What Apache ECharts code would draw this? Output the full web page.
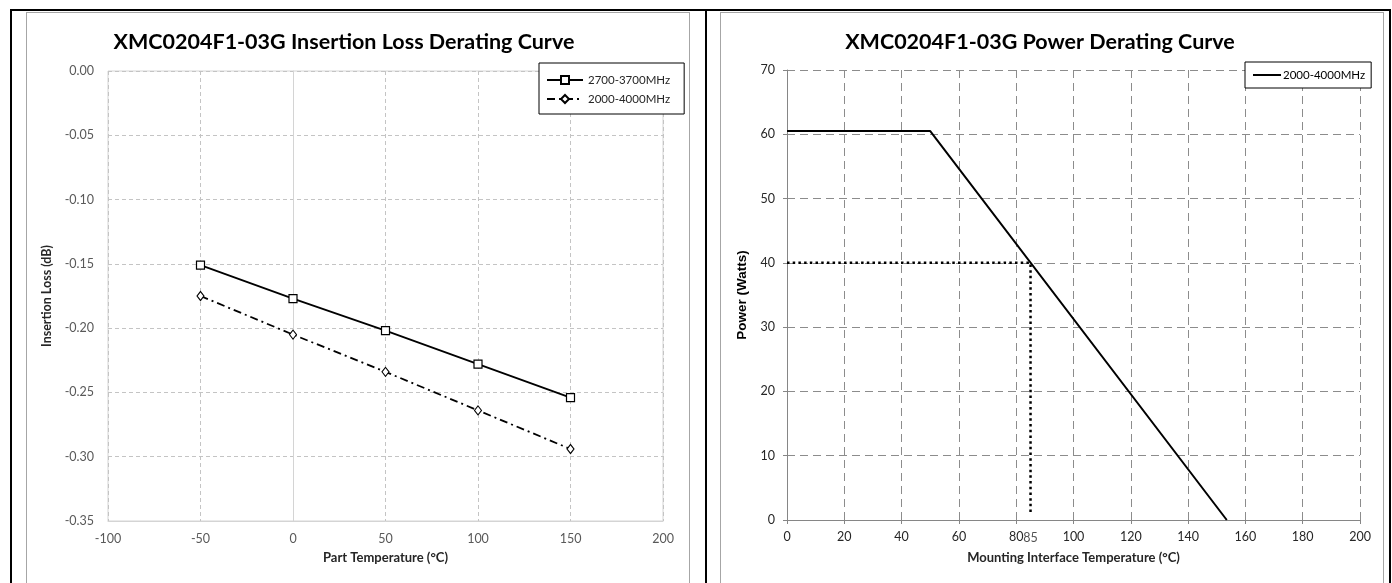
<!DOCTYPE html>
<html>
<head>
<meta charset="utf-8">
<script src="https://cdn.jsdelivr.net/npm/echarts@6/dist/echarts.min.js"></script>
<style>
  html, body { margin: 0; padding: 0; background: #fff; }
  #page { position: relative; width: 1392px; height: 583px; overflow: hidden; }
  .blk { position: absolute; background: #000; }
  .frame { position: absolute; border: 1px solid #a6a6a6; border-bottom: none; }
  .chart { position: absolute; top: 0; height: 583px; }
</style>
</head>
<body>
<div id="page">
  <div class="frame" style="left:26px; top:12px; width:662px; height:580px;"></div>
  <div class="frame" style="left:720px; top:12px; width:662px; height:580px;"></div>
  <div class="blk" style="left:10px; top:9px; width:1381px; height:2px;"></div>
  <div class="blk" style="left:10px; top:9px; width:2px; height:574px;"></div>
  <div class="blk" style="left:705px; top:9px; width:2px; height:574px;"></div>
  <div class="blk" style="left:1389px; top:9px; width:2px; height:574px;"></div>
  <div id="lossChart" class="chart" style="left:0; width:706px;"></div>
  <div id="powerChart" class="chart" style="left:706px; width:686px;"></div>
</div>
<script>
// insertion loss vs part temperature
const lossTemps = [-50, 0, 50, 100, 150];
const loss2700 = [-0.151, -0.177, -0.202, -0.228, -0.254];
const loss2000 = [-0.175, -0.205, -0.234, -0.264, -0.294];

// power derating
const powerTemps = [0, 50, 153.5];
const powerWatts = [60.5, 60.5, 0];
// 40 W @ 85 C guide lines
const guideTemps = [0, 85, 85];
const guideWatts = [40, 40, 0.8];
const guideTickTemp = [85];
const guideTickWatt = [0];

const FONT = 'Lato, "Open Sans", sans-serif';

function pairs(xs, ys) {
  return xs.map((x, i) => [x, ys[i]]);
}

const lossChart = echarts.init(document.getElementById('lossChart'));
lossChart.setOption({
  animation: false,
  textStyle: { fontFamily: FONT },
  title: {
    text: 'XMC0204F1-03G Insertion Loss Derating Curve',
    left: 339,
    top: 26,
    textAlign: 'center',
    textStyle: { fontFamily: FONT, fontSize: 21.5, fontWeight: 'bold', color: '#000' }
  },
  legend: {
    orient: 'vertical',
    left: 539,
    top: 63,
    padding: [11, 14, 9, 7],
    itemGap: 7,
    itemWidth: 36,
    itemHeight: 10,
    backgroundColor: '#fff',
    borderColor: '#000',
    borderWidth: 1,
    textStyle: { fontFamily: FONT, fontSize: 11.5, color: '#262626' },
    data: ['2700-3700MHz', '2000-4000MHz']
  },
  grid: {
    left: 108, top: 71, width: 555, height: 450,
    show: true, borderColor: '#d4d4d4', borderWidth: 1
  },
  xAxis: {
    type: 'value',
    min: -100, max: 200, interval: 50,
    name: 'Part Temperature (°C)',
    nameLocation: 'middle',
    nameGap: 30,
    nameTextStyle: { fontFamily: FONT, fontSize: 13, fontWeight: 'bold', color: '#262626' },
    axisLine: { onZero: false, lineStyle: { color: '#d4d4d4' } },
    axisTick: { show: false },
    axisLabel: { margin: 11, fontSize: 12.5, color: '#595959' },
    splitLine: { lineStyle: { color: '#c4c4c4', type: [4, 3] } }
  },
  yAxis: {
    type: 'value',
    min: -0.35, max: 0, interval: 0.05,
    name: 'Insertion Loss (dB)',
    nameLocation: 'middle',
    nameRotate: 90,
    nameGap: 41,
    nameTextStyle: { fontFamily: FONT, fontSize: 12.5, fontWeight: 'bold', color: '#262626' },
    axisLine: { show: true, lineStyle: { color: '#d4d4d4' } },
    axisTick: { show: false },
    axisLabel: { margin: 14, fontSize: 12.5, color: '#595959', formatter: v => v.toFixed(2) },
    splitLine: { lineStyle: { color: '#c4c4c4', type: [4, 3] } }
  },
  series: [{
    name: '2700-3700MHz',
    type: 'line',
    data: pairs(lossTemps, loss2700),
    symbol: 'rect',
    symbolSize: 8,
    lineStyle: { color: '#000', width: 1.8 },
    itemStyle: { color: '#fff', borderColor: '#000', borderWidth: 1.2 }
  }, {
    name: '2000-4000MHz',
    type: 'line',
    data: pairs(lossTemps, loss2000),
    symbol: 'diamond',
    symbolSize: [7, 9],
    lineStyle: { color: '#000', width: 1.8, type: [8, 4, 2, 4] },
    itemStyle: { color: '#fff', borderColor: '#000', borderWidth: 1.1 }
  }]
});

const powerChart = echarts.init(document.getElementById('powerChart'));
powerChart.setOption({
  animation: false,
  textStyle: { fontFamily: FONT },
  title: {
    text: 'XMC0204F1-03G Power Derating Curve',
    left: 329,
    top: 26,
    textAlign: 'center',
    textStyle: { fontFamily: FONT, fontSize: 21.5, fontWeight: 'bold', color: '#000' }
  },
  legend: {
    left: 539,
    top: 62,
    padding: [7, 6, 7, 8],
    itemWidth: 28,
    itemHeight: 2,
    backgroundColor: '#fff',
    borderColor: '#000',
    borderWidth: 1,
    textStyle: { fontFamily: FONT, fontSize: 11.5, color: '#000', padding: [0, 0, 0, -3] },
    data: [{ name: '2000-4000MHz', icon: 'rect' }]
  },
  grid: { left: 81, top: 70, width: 573, height: 450 },
  xAxis: {
    type: 'value',
    min: 0, max: 200, interval: 20,
    name: 'Mounting Interface Temperature (°C)',
    nameLocation: 'middle',
    nameGap: 31,
    nameTextStyle: { fontFamily: FONT, fontSize: 13, fontWeight: 'bold', color: '#262626' },
    axisLine: { lineStyle: { color: '#868686' } },
    axisTick: { show: true, length: 4, lineStyle: { color: '#868686' } },
    axisLabel: { margin: 10, fontSize: 12.5, color: '#262626' },
    splitLine: { lineStyle: { color: '#8c8c8c', type: [8, 5] } }
  },
  yAxis: {
    type: 'value',
    min: 0, max: 70, interval: 10,
    name: 'Power (Watts)',
    nameLocation: 'middle',
    nameRotate: 90,
    nameGap: 34,
    nameTextStyle: { fontFamily: '"Liberation Sans", Arial, sans-serif', fontSize: 13.5, fontWeight: 'bold', color: '#000' },
    axisLine: { show: true, lineStyle: { color: '#868686' } },
    axisTick: { show: true, length: 4, lineStyle: { color: '#868686' } },
    axisLabel: { margin: 12, fontSize: 12.5, color: '#262626' },
    splitLine: { lineStyle: { color: '#8c8c8c', type: [8, 5] } }
  },
  series: [{
    name: '2000-4000MHz',
    type: 'line',
    data: pairs(powerTemps, powerWatts),
    symbol: 'none',
    lineStyle: { color: '#000', width: 2 },
    itemStyle: { color: '#000' },
    z: 3
  }, {
    name: 'guide',
    type: 'line',
    data: pairs(guideTemps, guideWatts).map((p, i) => i === 1 ? {
      value: p,
      label: { show: true, position: 'right', distance: 10, formatter: '40 W', fontSize: 12.5, color: '#404040' }
    } : p),
    symbol: 'none',
    lineStyle: { color: '#000', width: 2.5, type: [2.5, 3.2], cap: 'butt' },
    z: 2
  }, {
    name: 'guideTick',
    type: 'scatter',
    data: pairs(guideTickTemp, guideTickWatt),
    symbolSize: 0,
    label: { show: true, position: 'bottom', distance: 11, formatter: p => String(p.value[0]), fontSize: 12.5, color: '#262626' },
    silent: true
  }]
});
</script>
</body>
</html>
